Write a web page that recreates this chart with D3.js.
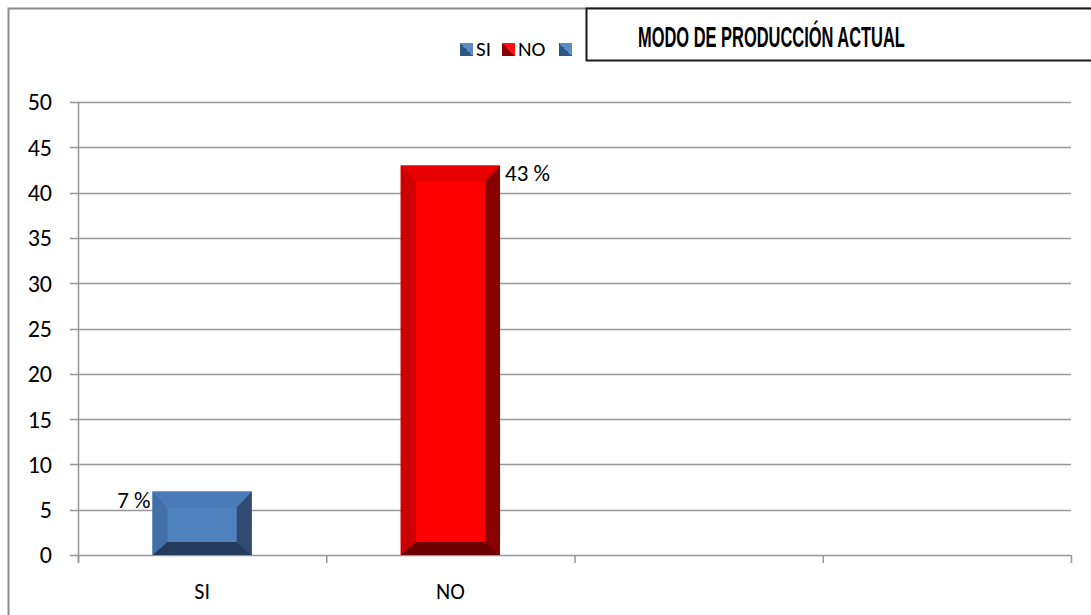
<!DOCTYPE html>
<html><head><meta charset="utf-8">
<script src="https://cdn.jsdelivr.net/npm/d3@7"></script>
<style>body{margin:0;background:#fff}svg{display:block}</style>
</head><body>
<svg id="c" width="1091" height="615"></svg>
<script>
const categories = ["SI", "NO", "", " "];
const values = [7, 43, null, null];
const valueLabels = ["7 %", "43 %", "", ""];
const yTicks = [0, 5, 10, 15, 20, 25, 30, 35, 40, 45, 50];
const legendItems = ["SI", "NO", ""];
const title = "MODO DE PRODUCCIÓN ACTUAL";

const palettes = {
  SI: {face:"#4f81bd", left:"#416fa6", top:"#4a7bb6", right:"#2f4b72", bottom:"#243b5c"},
  NO: {face:"#ff0000", left:"#cc0000", top:"#e60000", right:"#8a0000", bottom:"#6a0000"}
};

const svg = d3.select("#c");
const font = "Carlito, 'Open Sans', 'Noto Sans', sans-serif";

// outer frame
svg.append("path").attr("d","M8.5,615 L8.5,8.5 L1091,8.5").attr("fill","none").attr("stroke","#8c8c8c").attr("stroke-width",2);

const x = d3.scaleBand().domain(categories).range([78, 1071]).paddingInner(0.6).paddingOuter(0.3);
const y = d3.scaleLinear().domain([0, 50]).range([555, 102]);

// gridlines
svg.append("g").selectAll("line").data(yTicks).join("line")
  .attr("x1", 70).attr("x2", 1071)
  .attr("y1", d => Math.round(y(d)) + 0.5).attr("y2", d => Math.round(y(d)) + 0.5)
  .attr("stroke", "#969696").attr("stroke-width", 1.5);

// y axis line
svg.append("line").attr("x1",78.5).attr("x2",78.5).attr("y1",102).attr("y2",563).attr("stroke","#969696").attr("stroke-width",1.5);

// x ticks (category boundaries)
const step = (1071 - 78) / categories.length;
svg.append("g").selectAll("line").data(d3.range(categories.length + 1)).join("line")
  .attr("x1", i => 78.5 + i * step).attr("x2", i => 78.5 + i * step)
  .attr("y1", 555).attr("y2", 563).attr("stroke","#969696").attr("stroke-width",1.5);

// y tick labels
svg.append("g").selectAll("text").data(yTicks).join("text")
  .attr("x", 52).attr("y", d => y(d)).attr("dy","0.35em")
  .attr("text-anchor","end").attr("font-family",font).attr("font-size",24).attr("fill","#000")
  .text(d => d);

// x labels
svg.append("g").selectAll("text").data(categories).join("text")
  .attr("x", d => x(d) + x.bandwidth()/2).attr("y", 591).attr("dy","0.35em")
  .attr("text-anchor","middle").attr("font-family",font).attr("font-size",22).attr("fill","#000")
  .text(d => d.trim());

// beveled bars
const bars = categories.map((c,i) => ({c, v: values[i], label: valueLabels[i]})).filter(d => d.v != null);
bars.forEach(d => {
  const p = palettes[d.c];
  const x0 = x(d.c), x1 = x0 + x.bandwidth();
  const y0 = y(d.v), y1 = y(0);
  const bs = 15, bt = 16, bb = 13;
  const ix0 = x0 + bs, ix1 = x1 - bs, iy0 = y0 + bt, iy1 = y1 - bb;
  const g = svg.append("g");
  const poly = (pts, fill) => g.append("polygon").attr("points", pts.map(q => q.join(",")).join(" ")).attr("fill", fill);
  poly([[x0,y0],[x1,y0],[x1,y1],[x0,y1]], p.face);
  poly([[x0,y0],[ix0,iy0],[ix0,iy1],[x0,y1]], p.left);
  poly([[x0,y0],[x1,y0],[ix1,iy0],[ix0,iy0]], p.top);
  poly([[x1,y0],[x1,y1],[ix1,iy1],[ix1,iy0]], p.right);
  poly([[x0,y1],[ix0,iy1],[ix1,iy1],[x1,y1]], p.bottom);
});

// value labels
svg.append("text").attr("x", x("SI") - 2).attr("y", y(7) + 8).attr("text-anchor","end")
  .attr("font-family",font).attr("font-size",23).attr("dy","0.35em").text(valueLabels[0]);
svg.append("text").attr("x", x("NO") + x.bandwidth() + 5).attr("y", y(43) + 8).attr("text-anchor","start")
  .attr("font-family",font).attr("font-size",23).attr("dy","0.35em").text(valueLabels[1]);

// legend
const defs = svg.append("defs");
const mkGrad = (id, c1, c2) => {
  const gr = defs.append("linearGradient").attr("id", id).attr("x1","0").attr("y1","1").attr("x2","1").attr("y2","0");
  gr.append("stop").attr("offset","0.5").attr("stop-color", c1);
  gr.append("stop").attr("offset","0.5").attr("stop-color", c2);
};
mkGrad("gSI", "#2f5784", "#5b8cc6");
mkGrad("gNO", "#8a0000", "#ff1010");
const legendX = [460, 502, 559];
const legendFill = ["url(#gSI)", "url(#gNO)", "url(#gSI)"];
const lg = svg.append("g");
legendItems.forEach((t,i) => {
  lg.append("rect").attr("x", legendX[i]).attr("y", 43).attr("width", 13).attr("height", 13).attr("fill", legendFill[i]);
  lg.append("text").attr("x", legendX[i] + 16).attr("y", 49).attr("dy","0.35em")
    .attr("font-family",font).attr("font-size",21).text(t);
});

// title box (open on the right, running off the page)
svg.append("rect").attr("x", 587).attr("y", 9).attr("width", 503).attr("height", 51).attr("fill","#fff");
svg.append("path").attr("d","M1091,8.5 L586.5,8.5 L586.5,60.5 L1091,60.5")
  .attr("fill","none").attr("stroke","#1a1a1a").attr("stroke-width",2);
const tg = svg.append("g");
const tt = tg.append("text").attr("x", 0).attr("y", 0)
  .attr("font-family","'Liberation Sans Narrow','Liberation Sans',Arial,sans-serif").attr("font-size",29)
  .attr("font-weight","bold").attr("fill","#000")
  .text(title);
const natW = tt.node().getComputedTextLength() || 440;
tg.attr("transform", `translate(638,47) scale(${267 / natW},1)`);
</script>
</body></html>
